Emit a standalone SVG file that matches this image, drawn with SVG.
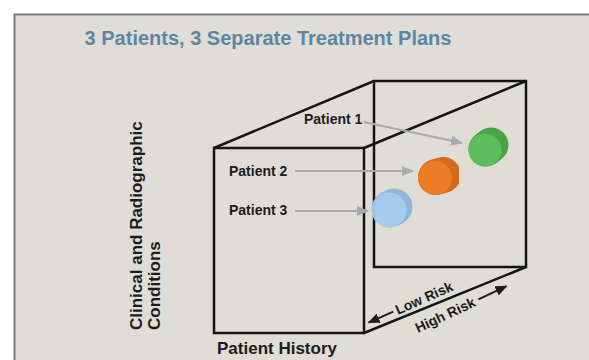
<svg xmlns="http://www.w3.org/2000/svg" width="589" height="360" viewBox="0 0 589 360">
  <style>
    .lbl { font-family: "Liberation Sans", Arial, sans-serif; font-weight: bold; fill: #1c1c1c; }
    .title { font-family: "Liberation Sans", Arial, sans-serif; font-weight: bold; fill: #5d86a2; font-size: 20px; }
    .edge { stroke: #141414; stroke-width: 2.5; fill: none; stroke-linejoin: miter; }
    .ptr { stroke: #a9a9b1; stroke-width: 2; fill: none; }
    .risk { stroke: #1c1c1c; stroke-width: 2; fill: none; }
  </style>
  <defs>
    <marker id="grayHead" markerUnits="userSpaceOnUse" markerWidth="12" markerHeight="10" refX="11" refY="5" orient="auto">
      <path d="M0,0 L12,5 L0,10 Z" fill="#a9a9b1"/>
    </marker>
    <marker id="blackHead" markerUnits="userSpaceOnUse" markerWidth="12" markerHeight="10" refX="11" refY="5" orient="auto">
      <path d="M0,0 L12,5 L0,10 Z" fill="#1c1c1c"/>
    </marker>
    <filter id="soft" x="-20%" y="-20%" width="140%" height="140%">
      <feGaussianBlur stdDeviation="0.7"/>
    </filter>
  </defs>

  <rect x="0" y="0" width="589" height="360" fill="#ffffff"/>
  <rect id="panel" x="14.5" y="14.5" width="600" height="400" fill="#dfddd6" stroke="#7c7c7c" stroke-width="2"/>

  <text class="title" x="268" y="45" text-anchor="middle">3 Patients, 3 Separate Treatment Plans</text>

  <g id="cube">
    <rect class="edge" x="374" y="81" width="152" height="186"/>
    <rect class="edge" x="214" y="148" width="150" height="185"/>
    <line class="edge" x1="214" y1="148" x2="374" y2="81"/>
    <line class="edge" x1="364" y1="148" x2="526" y2="81"/>
    <line class="edge" x1="364" y1="333" x2="526" y2="267"/>
  </g>

  <g id="axis-y-label">
    <text class="lbl" font-size="17" transform="translate(142,330) rotate(-90)">Clinical and Radiographic</text>
    <text class="lbl" font-size="17" transform="translate(160,330) rotate(-90)">Conditions</text>
  </g>

  <g id="axis-x-label">
    <text class="lbl" font-size="17" x="217" y="354">Patient History</text>
  </g>

  <g id="patient1-label"><text class="lbl" font-size="14" x="304" y="124">Patient 1</text></g>
  <g id="patient2-label"><text class="lbl" font-size="14" x="229" y="176">Patient 2</text></g>
  <g id="patient3-label"><text class="lbl" font-size="14" x="229" y="215">Patient 3</text></g>

  <g id="patient1-cylinder" filter="url(#soft)">
    <line x1="486" y1="149" x2="491" y2="145" stroke="#47a447" stroke-width="35" stroke-linecap="round"/>
    <circle cx="485" cy="150" r="16.5" fill="#5dbd5d"/>
  </g>
  <g id="patient2-cylinder" filter="url(#soft)">
    <line x1="436" y1="177" x2="443" y2="175" stroke="#d5691d" stroke-width="36" stroke-linecap="round"/>
    <circle cx="435" cy="178" r="17" fill="#ec7b25"/>
  </g>
  <g id="patient3-cylinder" filter="url(#soft)" opacity="0.95">
    <line x1="390" y1="209" x2="394" y2="207" stroke="#8db4da" stroke-width="37" stroke-linecap="round"/>
    <circle cx="389" cy="210" r="17.5" fill="#a3cbee"/>
  </g>

  <g id="connectors">
    <line class="ptr" x1="364" y1="122" x2="462" y2="143" marker-end="url(#grayHead)"/>
    <line class="ptr" x1="295" y1="171" x2="413" y2="171" marker-end="url(#grayHead)"/>
    <line class="ptr" x1="295" y1="211" x2="368" y2="211" marker-end="url(#grayHead)"/>
  </g>

  <g id="low-risk" transform="translate(398,315) rotate(-24)">
    <line class="risk" x1="-3" y1="-5" x2="-30" y2="-5" marker-end="url(#blackHead)"/>
    <text class="lbl" font-size="14" x="0" y="0">Low Risk</text>
  </g>
  <g id="high-risk" transform="translate(418,333) rotate(-25)">
    <text class="lbl" font-size="14" x="0" y="0">High Risk</text>
    <line class="risk" x1="69" y1="-5" x2="100" y2="-5" marker-end="url(#blackHead)"/>
  </g>
</svg>
